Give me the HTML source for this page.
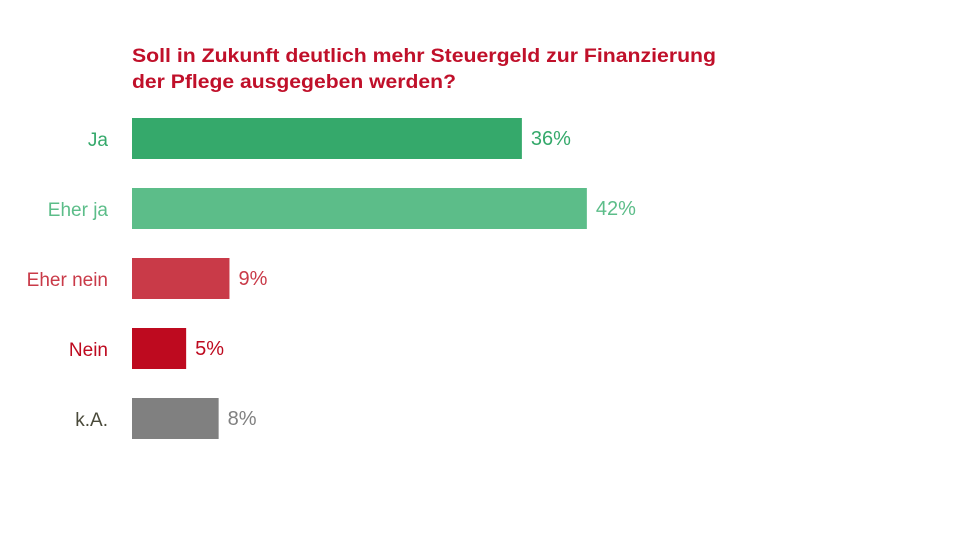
<!DOCTYPE html>
<html><head><meta charset="utf-8"><style>
html,body{margin:0;padding:0;background:#fff;}
svg{display:block;font-family:"Liberation Sans",Arial,sans-serif;}
</style></head><body>
<svg id="chart" width="960" height="540" viewBox="0 0 960 540">
<rect width="960" height="540" fill="#fff"/>
<text x="132" y="62" font-size="19" font-weight="bold" fill="#c0102a" textLength="584" lengthAdjust="spacingAndGlyphs">Soll in Zukunft deutlich mehr Steuergeld zur Finanzierung</text>
<text x="132" y="88" font-size="19" font-weight="bold" fill="#c0102a" textLength="324" lengthAdjust="spacingAndGlyphs">der Pflege ausgegeben werden?</text>
<g id="bars"></g>
</svg>
<script>
const categories = ["Ja", "Eher ja", "Eher nein", "Nein", "k.A."];
const values = [36, 42, 9, 5, 8];
const valueLabels = ["36%", "42%", "9%", "5%", "8%"];
const barColors = ["#35a96b", "#5cbd89", "#c93a48", "#be0a1f", "#808080"];
const labelColors = ["#35a96b", "#5cbd89", "#c93a48", "#be0a1f", "#4a4a3a"];
const valueColors = ["#35a96b", "#5cbd89", "#c93a48", "#be0a1f", "#808080"];

const x0 = 132, pxPerUnit = 10.83;
const xScale = v => x0 + v * pxPerUnit;
const yTop = i => 118 + i * 70;
const barH = 41;
const NS = "http://www.w3.org/2000/svg";
const g = document.getElementById("bars");
categories.forEach((c, i) => {
  const r = document.createElementNS(NS, "rect");
  r.setAttribute("x", x0);
  r.setAttribute("y", yTop(i));
  r.setAttribute("width", xScale(values[i]) - x0);
  r.setAttribute("height", barH);
  r.setAttribute("fill", barColors[i]);
  
  
  g.appendChild(r);
  const l = document.createElementNS(NS, "text");
  l.setAttribute("x", 108);
  l.setAttribute("y", yTop(i) + 28);
  l.setAttribute("text-anchor", "end");
  l.setAttribute("font-size", "19");
  l.setAttribute("fill", labelColors[i]);
  l.textContent = c;
  
  
  g.appendChild(l);
  const v = document.createElementNS(NS, "text");
  v.setAttribute("x", xScale(values[i]) + 9);
  v.setAttribute("y", yTop(i) + 27);
  v.setAttribute("font-size", "20");
  v.setAttribute("fill", valueColors[i]);
  v.textContent = valueLabels[i];
  
  
  g.appendChild(v);
});
</script>
</body></html>
